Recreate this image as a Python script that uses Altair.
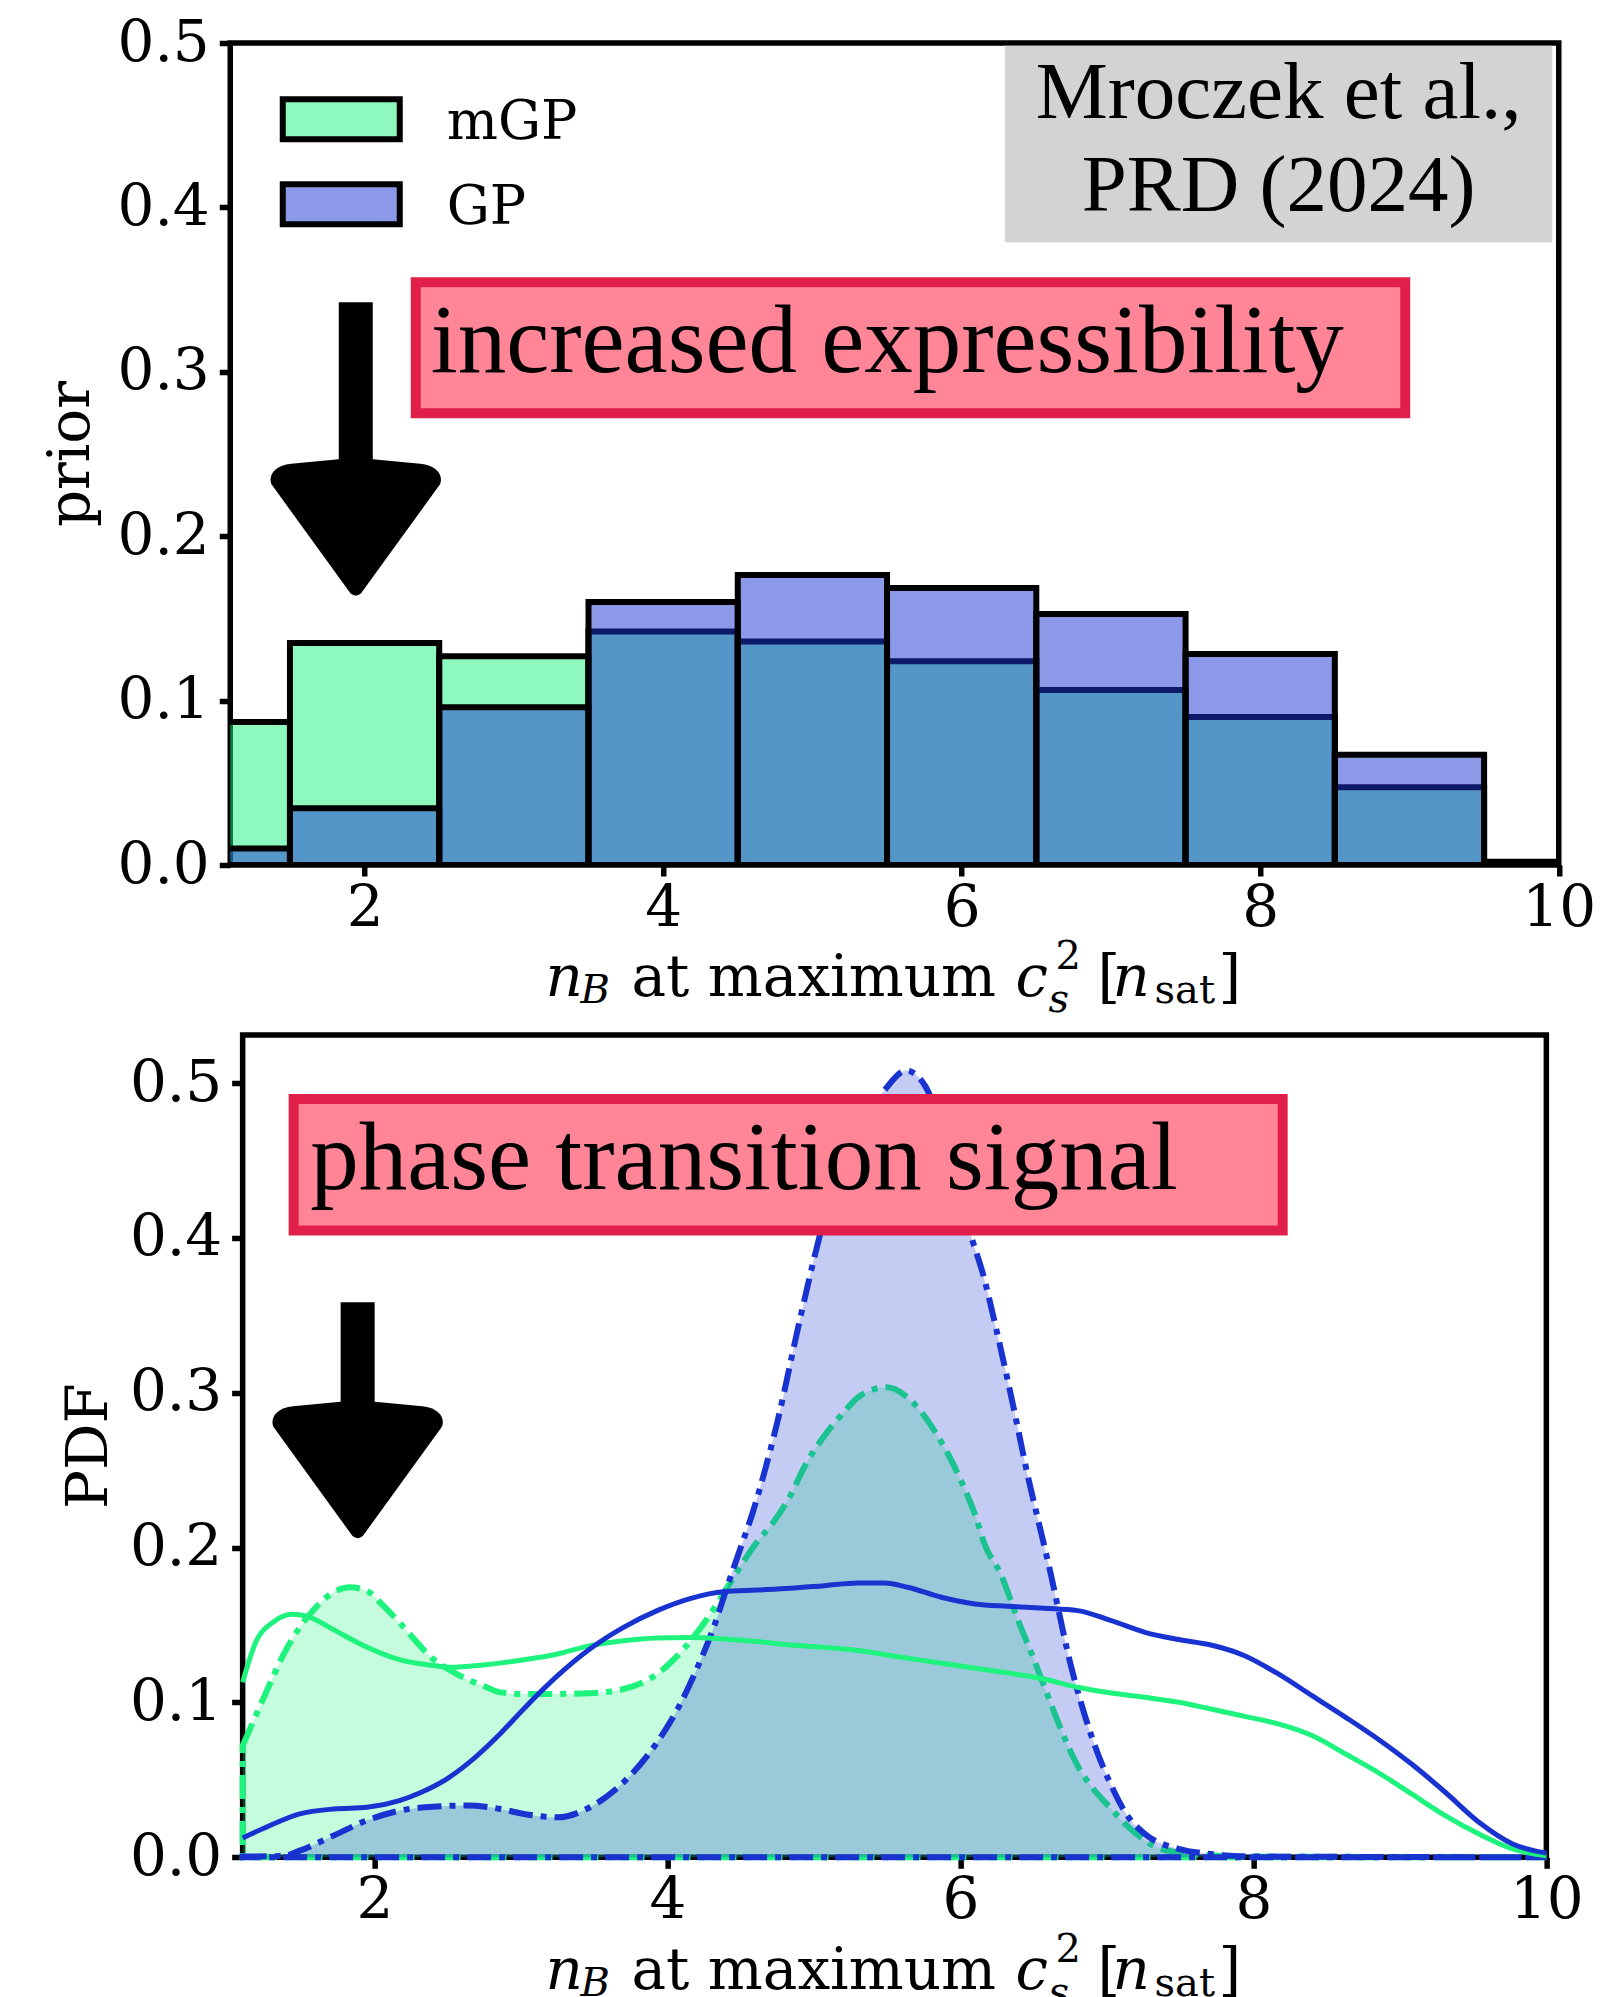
import altair as alt
import pandas as pd

# ---------------- data: top panel (prior histograms) ----------------
bin_lo = [0.5, 1.5, 2.5, 3.5, 4.5, 5.5, 6.5, 7.5, 8.5, 9.5]
bin_hi = [1.5, 2.5, 3.5, 4.5, 5.5, 6.5, 7.5, 8.5, 9.5, 10.5]
prior_mgp = [0.087, 0.135, 0.127, 0.142, 0.136, 0.124, 0.1065, 0.090, 0.0473, 0.001]
prior_gp = [0.010, 0.0345, 0.096, 0.160, 0.1764, 0.1685, 0.1527, 0.1283, 0.0671, 0.002]
legend_labels = ["mGP", "GP"]

# ---------------- data: bottom panel (PDFs) ----------------
x_mgp_prior = [1.10, 1.19, 1.31, 1.44, 1.56, 1.72, 1.95, 2.17, 2.40, 2.52, 2.74, 3.02, 3.25,
               3.47, 3.70, 3.93, 4.16, 4.39, 4.61, 4.84, 5.07, 5.30, 5.53, 5.75, 5.98, 6.21,
               6.57, 6.80, 7.03, 7.26, 7.49, 7.71, 7.94, 8.17, 8.40, 8.63, 8.85, 9.08, 9.31,
               9.54, 9.77, 10.0]
y_mgp_prior = [0.113, 0.139, 0.152, 0.157, 0.155, 0.147, 0.1356, 0.1276, 0.1238, 0.1227, 0.1242,
               0.1276, 0.1313, 0.1367, 0.1399, 0.1416, 0.142, 0.141, 0.1393, 0.1371, 0.1356,
               0.1335, 0.1302, 0.127, 0.1238, 0.1206, 0.1151, 0.1098, 0.1061, 0.1033, 0.1001,
               0.0958, 0.091, 0.0861, 0.0786, 0.0667, 0.0549, 0.0409, 0.0269, 0.015, 0.0054,
               0.001]

x_gp_prior = [1.10, 1.26, 1.49, 1.72, 1.95, 2.17, 2.32, 2.50, 2.63, 2.86, 3.02, 3.25, 3.47,
              3.70, 3.93, 4.16, 4.39, 4.61, 4.84, 5.07, 5.30, 5.48, 5.64, 5.87, 6.10, 6.32,
              6.57, 6.80, 7.03, 7.26, 7.49, 7.71, 7.94, 8.17, 8.40, 8.63, 8.85, 9.08, 9.31,
              9.54, 9.77, 10.0]
y_gp_prior = [0.0125, 0.0194, 0.028, 0.0312, 0.0323, 0.0366, 0.042, 0.051, 0.060, 0.080, 0.096,
              0.1173, 0.1345, 0.1485, 0.1593, 0.1672, 0.1716, 0.1726, 0.1737, 0.1754, 0.1771,
              0.1771, 0.1744, 0.1679, 0.1636, 0.1621, 0.1608, 0.1593, 0.1528, 0.1453, 0.1406,
              0.1371, 0.1302, 0.1184, 0.1044, 0.0904, 0.0764, 0.0602, 0.042, 0.0226, 0.0086,
              0.0028]

x_mgp_post = [1.10, 1.26, 1.375, 1.49, 1.60, 1.72, 1.83, 1.945, 2.06, 2.17, 2.29, 2.40, 2.52,
              2.63, 2.74, 2.86, 3.02, 3.25, 3.47, 3.70, 3.93, 4.11, 4.27, 4.43, 4.61, 4.72,
              4.83, 4.94, 5.07, 5.20, 5.30, 5.40, 5.50, 5.65, 5.83, 6.01, 6.11, 6.16, 6.28,
              6.39, 6.51, 6.57, 6.80, 7.03, 7.19, 7.37, 7.60, 8.0, 9.0, 10.0]
y_mgp_post = [0.072, 0.1065, 0.1302, 0.1485, 0.1614, 0.1711, 0.1744, 0.1722, 0.1625, 0.1517,
              0.1388, 0.128, 0.1206, 0.1151, 0.1109, 0.1065, 0.1055, 0.1055, 0.106, 0.1087,
              0.1184, 0.1345, 0.1539, 0.1776, 0.2034, 0.216, 0.232, 0.253, 0.272, 0.287, 0.297,
              0.302, 0.3035, 0.296, 0.2744, 0.242, 0.2185, 0.2034, 0.1819, 0.1539, 0.1259,
              0.1109, 0.0592, 0.0312, 0.016, 0.0054, 0.002, 0.0005, 0.0002, 0.0]

x_gp_post = [1.10, 1.375, 1.49, 1.72, 1.945, 2.17, 2.40, 2.63, 2.86, 3.02, 3.25, 3.47, 3.70,
             3.93, 4.07, 4.20, 4.32, 4.41, 4.50, 4.58, 4.66, 4.75, 4.90, 5.04, 5.16, 5.30,
             5.47, 5.63, 5.76, 5.92, 6.08, 6.15, 6.26, 6.36, 6.47, 6.52, 6.60, 6.76, 6.89,
             7.03, 7.14, 7.26, 7.49, 7.71, 8.0, 9.0, 10.0]
y_gp_post = [0.0005, 0.0008, 0.0043, 0.014, 0.0237, 0.0301, 0.0327, 0.0334, 0.0312, 0.028,
             0.0258, 0.0323, 0.0484, 0.0743, 0.0958, 0.1216, 0.1496, 0.1754, 0.200, 0.222,
             0.248, 0.281, 0.3455, 0.4015, 0.442, 0.472, 0.494, 0.508, 0.498, 0.455, 0.399,
             0.378, 0.3347, 0.2917, 0.2421, 0.222, 0.19, 0.1216, 0.0796, 0.0463, 0.0269,
             0.015, 0.0054, 0.0021, 0.0005, 0.0002, 0.0]

x_ticks = [2, 4, 6, 8, 10]
y_ticks = [0.0, 0.1, 0.2, 0.3, 0.4, 0.5]

# ---------------- styles / layout ----------------
GREEN = "#1DF37D"
BLUE = "#1933D1"
PINK = "#FF8597"
CRIMSON = "#E0204A"
GRAY = "#D3D3D3"
SERIF = "DejaVu Serif"
TIMES = "Liberation Serif"

XMIN, XMAX = 1.1, 10.0
W1, H1 = 1328.5, 822
W2, H2 = 1303.7, 822.3
Y2MAX = 0.531

xs = alt.Scale(domain=[XMIN, XMAX], nice=False, zero=False)
ys1 = alt.Scale(domain=[0, 0.5], nice=False, zero=False)
ys2 = alt.Scale(domain=[0, Y2MAX], nice=False, zero=False)
xaxis = alt.Axis(values=x_ticks, format="d", title=None, labelPadding=3, grid=False,
                 domain=False, labelFont=SERIF, labelFontSize=58, labelColor="black",
                 tickColor="black", tickWidth=5.5, tickSize=11, labelFlush=False,
                 labelOverlap=False)
yaxis = alt.Axis(values=y_ticks, format=".1f", title=None, labelPadding=10, grid=False,
                 domain=False, labelFont=SERIF, labelFontSize=58, labelColor="black",
                 tickColor="black", tickWidth=5.5, tickSize=11, labelFlush=False,
                 labelOverlap=False)

# annotation positions (data units of each panel)
LEG_X = (1.4517, 2.2355)
LEG_Y = [(0.46576, 0.44142), (0.41405, 0.38972)]
LEG_TX = 2.55
LEG_TY = [0.4416, 0.3899]
REF_BOX = (6.2886, 9.957, 0.4984, 0.3788)
REF_TX = 8.1228
REF_TY = [0.4542, 0.39763]
BOX1 = (2.3427, 8.9717, 0.35444, 0.27476)
BOX1_T = (2.443, 0.2997)
BOX2 = (1.4482, 8.1999, 0.48967, 0.40469)
BOX2_T = (1.5615, 0.43155)
ARROW1 = (1.9408, 0.34228, 0.23887, 0.20542)
ARROW2 = (1.885, 0.35839, 0.28736, 0.25023)
HEAD = ("M -0.2 -0.79 L -0.75 -0.74 C -0.95 -0.72 -1.02 -0.6 -0.98 -0.5 L -0.06 0.77 "
        "Q 0 0.82 0.06 0.77 L 0.98 -0.5 C 1.02 -0.6 0.95 -0.72 0.75 -0.74 L 0.2 -0.79 Z")


def X(f):
    return alt.X(f, type="quantitative", scale=xs, axis=xaxis, title=None)


def Y(f, ys):
    return alt.Y(f, type="quantitative", scale=ys, axis=yaxis, title=None)


def xtitle(W, H, base):
    pieces = [("n", -349, 0, 58, "italic"), ("B", -314, 7, 40, "italic"),
              ("at maximum", -263, 0, 58, "normal"), ("c", 121, 0, 58, "italic"),
              ("s", 154, 16, 40, "italic"), ("2", 161, -27, 40, "normal"),
              ("[", 203, 0, 58, "normal"), ("n", 218, 0, 58, "italic"),
              ("sat", 260, 7, 40, "normal"), ("]", 324, 0, 58, "normal")]
    out = []
    for t, off, dy, fs, st in pieces:
        out.append(alt.Chart(pd.DataFrame({"t": [t]})).mark_text(
            align="left", baseline="alphabetic", font=SERIF, fontSize=fs,
            fontStyle=st, color="black").encode(
            x=alt.value(W / 2 + off), y=alt.value(H + base + dy), text="t:N"))
    return out


def ytitle(txt, H, xoff):
    return alt.Chart(pd.DataFrame({"t": [txt]})).mark_text(
        angle=270, align="center", baseline="alphabetic", font=SERIF, fontSize=58,
        color="black").encode(x=alt.value(xoff), y=alt.value(H / 2), text="t:N")


def box(b, ys):
    df = pd.DataFrame({"x0": [b[0]], "x1": [b[1]], "y0": [b[2]], "y1": [b[3]]})
    return alt.Chart(df).mark_rect(fill=PINK, stroke=CRIMSON, strokeWidth=10).encode(
        x=X("x0"), x2="x1", y=Y("y0", ys), y2="y1")


def boxtext(txt, pos, ys):
    df = pd.DataFrame({"x": [pos[0]], "y": [pos[1]], "t": [txt]})
    return alt.Chart(df).mark_text(align="left", baseline="alphabetic", font=TIMES,
                                   fontSize=97, color="black").encode(
        x=X("x"), y=Y("y", ys), text="t:N")


def arrow(a, ys):
    df = pd.DataFrame({"x": [a[0]], "y0": [a[1]], "y1": [a[2]], "yh": [a[3]]})
    stem = alt.Chart(df).mark_rule(color="black", strokeWidth=34, strokeCap="butt").encode(
        x=X("x"), y=Y("y0", ys), y2="y1")
    head = alt.Chart(df).mark_point(shape=HEAD, filled=True, size=29584, color="black",
                                    opacity=1, strokeWidth=0).encode(
        x=X("x"), y=Y("yh", ys))
    return [stem, head]


# ---------------- top chart ----------------
hist = pd.DataFrame({"lo": bin_lo, "hi": bin_hi, "mgp": prior_mgp, "gp": prior_gp,
                     "zero": [0.0] * len(bin_lo)})
bars_m = alt.Chart(hist).mark_rect(clip=True, fill=GREEN, fillOpacity=0.5, stroke="black",
                                   strokeWidth=6, strokeJoin="miter").encode(
    x=X("lo"), x2="hi", y=Y("mgp", ys1), y2="zero")
bars_g = alt.Chart(hist).mark_rect(clip=True, fill=BLUE, fillOpacity=0.5, stroke="black",
                                   strokeWidth=6, strokeJoin="miter").encode(
    x=X("lo"), x2="hi", y=Y("gp", ys1), y2="zero")

leg = pd.DataFrame({"x0": [LEG_X[0]] * 2, "x1": [LEG_X[1]] * 2,
                    "y0": [LEG_Y[0][0], LEG_Y[1][0]], "y1": [LEG_Y[0][1], LEG_Y[1][1]],
                    "c": [GREEN, BLUE], "t": legend_labels,
                    "tx": [LEG_TX] * 2, "ty": LEG_TY})
leg_rect = alt.Chart(leg).mark_rect(fillOpacity=0.5, stroke="black", strokeWidth=6).encode(
    x=X("x0"), x2="x1", y=Y("y0", ys1), y2="y1", fill=alt.Fill("c:N", scale=None))
leg_text = alt.Chart(leg).mark_text(align="left", baseline="alphabetic", font=SERIF,
                                    fontSize=54, color="black").encode(
    x=X("tx"), y=Y("ty", ys1), text="t:N")

ref = pd.DataFrame({"x0": [REF_BOX[0]], "x1": [REF_BOX[1]], "y0": [REF_BOX[2]],
                    "y1": [REF_BOX[3]]})
ref_rect = alt.Chart(ref).mark_rect(fill=GRAY).encode(x=X("x0"), x2="x1", y=Y("y0", ys1),
                                                       y2="y1")
ref_txt = pd.DataFrame({"x": [REF_TX] * 2, "y": REF_TY, "t": ["Mroczek et al.,", "PRD (2024)"]})
ref_text = alt.Chart(ref_txt).mark_text(align="center", baseline="alphabetic", font=TIMES,
                                        fontSize=81, color="black").encode(
    x=X("x"), y=Y("y", ys1), text="t:N")

top = alt.layer(
    bars_m, bars_g, leg_rect, leg_text, ref_rect, ref_text,
    box(BOX1, ys1), boxtext("increased expressibility", BOX1_T, ys1),
    *arrow(ARROW1, ys1), ytitle("prior", H1, -141.5), *xtitle(W1, H1, 130.6)
).properties(width=W1, height=H1)

# ---------------- bottom chart ----------------
def curve(xv, yv):
    return pd.DataFrame({"x": xv, "y": yv})

DASH = [24, 8, 6, 8]
area_m = alt.Chart(curve(x_mgp_post, y_mgp_post)).mark_area(
    interpolate="monotone", fill=GREEN, fillOpacity=0.25, stroke=GREEN, strokeOpacity=1,
    strokeWidth=6, strokeDash=DASH).encode(x=X("x"), y=Y("y", ys2))
area_g = alt.Chart(curve(x_gp_post, y_gp_post)).mark_area(
    interpolate="monotone", fill=BLUE, fillOpacity=0.25, stroke=BLUE, strokeOpacity=1,
    strokeWidth=6, strokeDash=DASH).encode(x=X("x"), y=Y("y", ys2))
line_m = alt.Chart(curve(x_mgp_prior, y_mgp_prior)).mark_line(
    interpolate="monotone", color=GREEN, strokeWidth=5).encode(x=X("x"), y=Y("y", ys2))
line_g = alt.Chart(curve(x_gp_prior, y_gp_prior)).mark_line(
    interpolate="monotone", color=BLUE, strokeWidth=5).encode(x=X("x"), y=Y("y", ys2))

bottom = alt.layer(
    area_m, area_g, line_m, line_g,
    box(BOX2, ys2), boxtext("phase transition signal", BOX2_T, ys2),
    *arrow(ARROW2, ys2), ytitle("PDF", H2, -136), *xtitle(W2, H2, 131.7)
).properties(width=W2, height=H2)

chart = alt.vconcat(top, bottom, spacing=170, bounds="flush", center=True).properties(
    padding={"left": 32, "top": 3, "right": 5, "bottom": 5}, background="white"
).configure_view(stroke="black", strokeWidth=5.5)

chart.save("out.html", embed_options={"renderer": "svg", "actions": False})
